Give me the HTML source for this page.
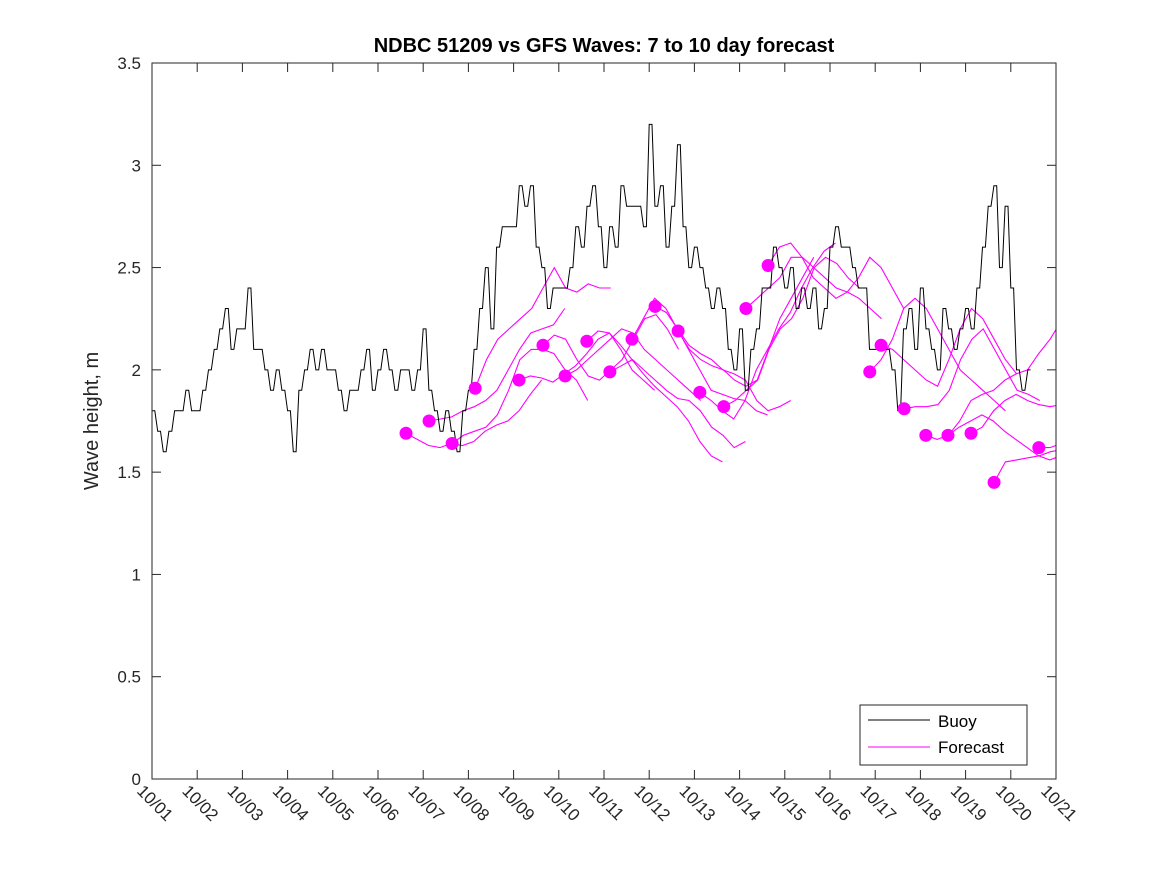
<!DOCTYPE html>
<html><head><meta charset="utf-8"><style>
body{margin:0;background:#fff;}
svg{display:block;font-family:"Liberation Sans","DejaVu Sans",sans-serif;}
</style></head><body>
<svg id="chart" width="1167" height="875" viewBox="0 0 1167 875" xmlns="http://www.w3.org/2000/svg">
<rect width="1167" height="875" fill="#fff"/>
<text x="604" y="52" text-anchor="middle" font-size="20" font-weight="bold" fill="#000">NDBC 51209 vs GFS Waves: 7 to 10 day forecast</text>
<text transform="translate(98,421) rotate(-90)" text-anchor="middle" font-size="20" fill="#262626">Wave height, m</text>
<g id="grid"></g>
<defs><clipPath id="pc"><rect x="152" y="63" width="904" height="716"/></clipPath></defs>
<g id="series" clip-path="url(#pc)"></g>
<g id="dots"></g>
<rect x="152" y="63" width="904" height="716" fill="none" stroke="#262626" stroke-width="1"/>
<g>
<rect x="860" y="705" width="167" height="60" fill="#fff" stroke="#262626" stroke-width="1"/>
<line x1="868" y1="720" x2="930" y2="720" stroke="#000" stroke-width="1"/>
<text x="938" y="727" font-size="17" fill="#000">Buoy</text>
<line x1="868" y1="747" x2="930" y2="747" stroke="#ff00ff" stroke-width="1"/>
<text x="938" y="753" font-size="17" fill="#000">Forecast</text>
</g>
</svg>
<script>
const xTickLabels=["10/01","10/02","10/03","10/04","10/05","10/06","10/07","10/08","10/09","10/10","10/11","10/12","10/13","10/14","10/15","10/16","10/17","10/18","10/19","10/20","10/21"];
const yTicks=[0,0.5,1,1.5,2,2.5,3,3.5];
const yTickLabels=["0","0.5","1","1.5","2","2.5","3","3.5"];
const buoyStep=0.125;
const buoyValues=[
1.8,1.7,1.6,1.7,1.8,1.8,1.9,1.8,
1.8,1.9,2.0,2.1,2.2,2.3,2.1,2.2,
2.2,2.4,2.1,2.1,2.0,1.9,2.0,1.9,
1.8,1.6,1.9,2.0,2.1,2.0,2.1,2.0,
2.0,1.9,1.8,1.9,1.9,2.0,2.1,1.9,
2.0,2.1,2.0,1.9,2.0,2.0,1.9,2.0,
2.2,1.9,1.8,1.7,1.8,1.7,1.6,1.8,
1.9,2.1,2.3,2.5,2.2,2.6,2.7,2.7,
2.7,2.9,2.8,2.9,2.6,2.5,2.3,2.4,
2.4,2.4,2.5,2.7,2.6,2.8,2.9,2.7,
2.5,2.7,2.6,2.9,2.8,2.8,2.8,2.7,
3.2,2.8,2.9,2.6,2.8,3.1,2.7,2.5,
2.6,2.5,2.4,2.3,2.4,2.3,2.1,2.0,
2.2,1.9,2.1,2.2,2.4,2.4,2.6,2.5,
2.4,2.5,2.3,2.4,2.3,2.4,2.2,2.3,
2.6,2.7,2.6,2.6,2.5,2.4,2.4,2.1,
2.1,2.1,2.1,2.0,1.8,2.2,2.3,2.1,
2.4,2.2,2.1,2.0,2.3,2.2,2.1,2.2,
2.3,2.2,2.4,2.6,2.8,2.9,2.5,2.8,
2.4,2.0,1.9,2.0];
const fcStep=0.25;
const fcStarts=[5.62,6.13,6.64,7.15,8.12,8.65,9.14,9.62,10.13,10.62,11.13,11.64,12.12,12.65,13.14,13.63,15.88,16.13,16.64,17.12,17.61,18.12,18.63,19.62];
const fc1=[1.69,1.66,1.63,1.62,1.64,1.63,1.65,1.70,1.73,1.75,1.80,1.88,1.95];
const fc2=[1.75,1.76,1.77,1.80,1.82,1.85,1.90,2.00,2.10,2.18,2.20,2.22,2.30];
const fc3=[1.64,1.68,1.70,1.72,1.78,1.90,2.05,2.10,2.10,2.08,2.00,1.95,1.85];
const fc4=[1.91,2.05,2.15,2.20,2.25,2.30,2.40,2.50,2.40,2.38,2.42,2.40,2.40];
const fc5=[1.95,1.97,1.96,1.94,1.98,2.02,2.08,2.15,2.18,2.10,2.00,1.95,1.90];
const fc6=[2.12,2.17,2.15,2.05,1.97,1.95,2.00,2.05,2.15,2.25,2.27,2.20,2.10];
const fc7=[1.97,2.00,2.05,2.10,2.15,2.20,2.18,2.10,2.05,2.00,1.95,1.90,1.85];
const fc8=[2.14,2.19,2.18,2.12,2.05,1.98,1.92,1.87,1.82,1.75,1.65,1.58,1.55];
const fc9=[1.99,2.02,2.05,2.00,1.95,1.90,1.86,1.85,1.80,1.72,1.68,1.62,1.65];
const fc10=[2.15,2.25,2.35,2.30,2.20,2.10,2.00,1.90,1.88,1.86,1.85,1.80,1.78];
const fc11=[2.31,2.28,2.20,2.12,2.08,2.05,2.00,1.98,1.95,1.85,1.80,1.82,1.85];
const fc12=[2.19,2.10,2.05,2.02,2.00,1.95,1.92,1.95,2.10,2.25,2.35,2.45,2.55];
const fc13=[1.89,1.85,1.80,1.76,1.85,2.00,2.10,2.20,2.28,2.40,2.50,2.58,2.62];
const fc14=[1.82,1.85,1.90,1.95,2.10,2.20,2.25,2.35,2.50,2.55,2.52,2.45,2.40];
const fc15=[2.30,2.35,2.40,2.45,2.55,2.55,2.50,2.45,2.40,2.38,2.35,2.30,2.25];
const fc16=[2.51,2.60,2.62,2.55,2.45,2.40,2.35,2.38,2.45,2.55,2.50,2.40,2.30];
const fc17=[1.99,2.05,2.15,2.30,2.35,2.30,2.20,2.10,2.00,1.95,1.90,1.85,1.80];
const fc18=[2.12,2.10,2.05,2.00,1.95,1.92,2.05,2.20,2.30,2.25,2.15,2.05,1.98];
const fc19=[1.81,1.82,1.82,1.83,1.90,2.05,2.15,2.20,2.10,2.00,1.90,1.88,1.85];
const fc20=[1.68,1.66,1.68,1.75,1.85,1.88,1.90,1.95,1.98,2.00,2.08,2.15,2.24];
const fc21=[1.68,1.72,1.75,1.78,1.75,1.70,1.66,1.62,1.58,1.56,1.58,1.60,1.62];
const fc22=[1.69,1.72,1.80,1.85,1.88,1.85,1.83,1.82,1.83,1.83,1.84,1.84,1.83];
const fc23=[1.45,1.55,1.56,1.57,1.58,1.60,1.61,1.62,1.64,1.66];
const fc24=[1.62,1.62,1.64,1.66,1.60];
const fcValues=[fc1,fc2,fc3,fc4,fc5,fc6,fc7,fc8,fc9,fc10,fc11,fc12,fc13,fc14,fc15,fc16,fc17,fc18,fc19,fc20,fc21,fc22,fc23,fc24];

const NS="http://www.w3.org/2000/svg";
const X0=152,X1=1056,Y0=779,Y1=63,XMAX=20,YMAX=3.5;
const xs=d=>X0+(X1-X0)*d/XMAX;
const ys=v=>Y0-(Y0-Y1)*v/YMAX;
function mk(tag,attrs,parent){const e=document.createElementNS(NS,tag);for(const k in attrs)e.setAttribute(k,attrs[k]);parent.appendChild(e);return e;}
const grid=document.getElementById('grid');
xTickLabels.forEach((lab,i)=>{
  const x=xs(i);
  const t1=mk('line',{x1:x,y1:Y0,x2:x,y2:Y0-9,stroke:'#262626'},grid);
  
  
  const t2=mk('line',{x1:x,y1:Y1,x2:x,y2:Y1+9,stroke:'#262626'},grid);
  
  
  const tx=mk('text',{x:0,y:0,'font-size':17,fill:'#262626',transform:`translate(${x-16},${Y0+13}) rotate(45)`},grid);
  tx.textContent=lab;
  
  
});
yTicks.forEach((v,i)=>{
  const y=ys(v);
  const t1=mk('line',{x1:X0,y1:y,x2:X0+9,y2:y,stroke:'#262626'},grid);
  
  
  const t2=mk('line',{x1:X1,y1:y,x2:X1-9,y2:y,stroke:'#262626'},grid);
  
  
  const tx=mk('text',{x:X0-11,y:y+6,'font-size':17,fill:'#262626','text-anchor':'end'},grid);
  tx.textContent=yTickLabels[i];
  
  
});
const series=document.getElementById('series');
const dots=document.getElementById('dots');
fcValues.forEach((vals,k)=>{
  const pts=vals.map((v,j)=>xs(fcStarts[k]+j*fcStep).toFixed(1)+','+ys(v).toFixed(1)).join(' ');
  const pl=mk('polyline',{points:pts,fill:'none',stroke:'#ff00ff','stroke-width':1.1},series);
  
  
  const c=mk('circle',{cx:xs(fcStarts[k]),cy:ys(vals[0]),r:6.5,fill:'#ff00ff'},dots);
  
  
});
let bp=[];
buoyValues.forEach((v,i)=>{
  const x=xs(i*buoyStep),xn=xs((i+1)*buoyStep);
  bp.push(x.toFixed(1)+','+ys(v).toFixed(1));
  bp.push(((x+xn)/2).toFixed(1)+','+ys(v).toFixed(1));
});
const bl=mk('polyline',{points:bp.join(' '),fill:'none',stroke:'#000','stroke-width':1},series);


</script>
</body></html>
